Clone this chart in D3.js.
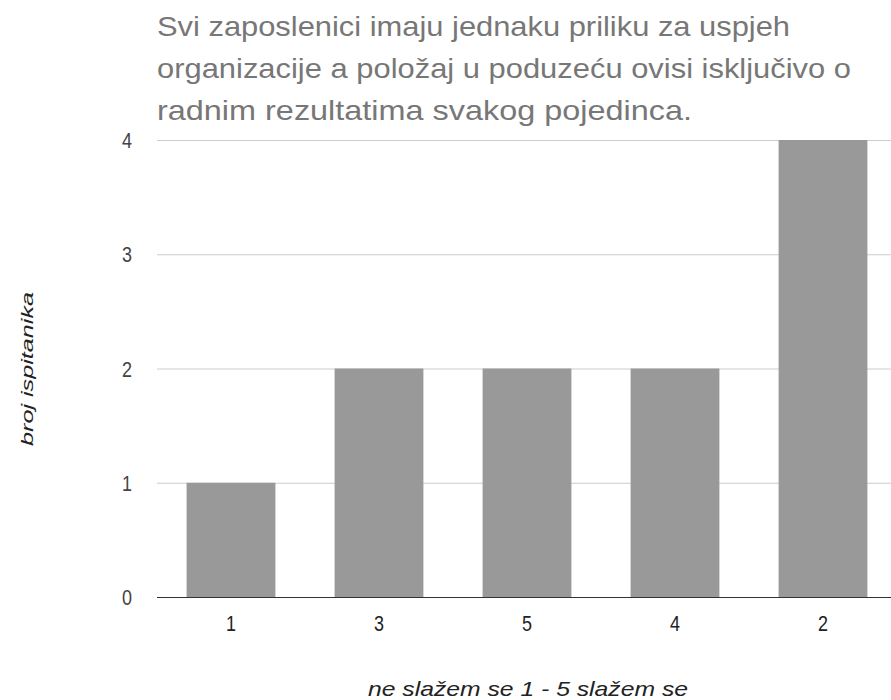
<!DOCTYPE html>
<html>
<head>
<meta charset="utf-8">
<script src="https://cdn.jsdelivr.net/npm/d3@7"></script>
<style>
body{margin:0;background:#fff;}
text{font-family:"Liberation Sans",Arial,sans-serif;}
</style>
</head>
<body>
<div id="chart"></div>
<script>
var categories = ["1", "3", "5", "4", "2"];
var values = [1, 2, 2, 2, 4];
var yTicks = [0, 1, 2, 3, 4];
var titleLines = [
    "Svi zaposlenici imaju jednaku priliku za uspjeh",
    "organizacije a položaj u poduzeću ovisi isključivo o",
    "radnim rezultatima svakog pojedinca."
];
var titleWidths = [633, 694, 535];

var width = 891, height = 700;
var plot = {left: 157, right: 897, top: 140, bottom: 597};

var svg = d3.select('#chart')
    .append('svg')
    .attr('width', width)
    .attr('height', height);

var x = d3.scaleBand()
    .domain(categories)
    .range([plot.left, plot.right])
    .paddingInner(0.4)
    .paddingOuter(0.2);

var y = d3.scaleLinear()
    .domain([0, 4])
    .range([plot.bottom, plot.top]);

// gridlines
svg.selectAll('.grid')
    .data(yTicks.filter(d => d > 0))
    .enter().append('line')
    .attr('class', 'grid')
    .attr('x1', plot.left)
    .attr('x2', width)
    .attr('y1', d => y(d) + 0.5)
    .attr('y2', d => y(d) + 0.5)
    .attr('stroke', '#cccccc')
    .attr('stroke-width', 1);

// bars
svg.selectAll('.bar')
    .data(values)
    .enter().append('rect')
    .attr('class', 'bar')
    .attr('x', (d, i) => x(categories[i]))
    .attr('y', d => y(d))
    .attr('width', x.bandwidth())
    .attr('height', d => y(0) - y(d))
    .attr('fill', '#999999');

// baseline
svg.append('line')
    .attr('x1', plot.left)
    .attr('x2', width)
    .attr('y1', y(0) + 0.5)
    .attr('y2', y(0) + 0.5)
    .attr('stroke', '#333333')
    .attr('stroke-width', 1);

// y tick labels (text in the source is tall and narrow)
svg.selectAll('.ylab')
    .data(yTicks)
    .enter().append('text')
    .attr('class', 'ylab')
    .attr('x', 132)
    .attr('y', d => y(d) + 8)
    .attr('text-anchor', 'end')
    .attr('font-size', 22)
    .attr('fill', '#444444')
    .attr('textLength', 10)
    .attr('lengthAdjust', 'spacingAndGlyphs')
    .text(d => d);

// x tick labels
svg.selectAll('.xlab')
    .data(categories)
    .enter().append('text')
    .attr('class', 'xlab')
    .attr('x', d => x(d) + x.bandwidth() / 2)
    .attr('y', 631)
    .attr('text-anchor', 'middle')
    .attr('font-size', 22)
    .attr('fill', '#222222')
    .attr('textLength', 10)
    .attr('lengthAdjust', 'spacingAndGlyphs')
    .text(d => d);

// title
svg.selectAll('.title')
    .data(titleLines)
    .enter().append('text')
    .attr('class', 'title')
    .attr('x', 157)
    .attr('y', (d, i) => 36 + i * 42)
    .attr('font-size', 28)
    .attr('fill', '#777777')
    .attr('textLength', (d, i) => titleWidths[i])
    .attr('lengthAdjust', 'spacingAndGlyphs')
    .text(d => d);

// axis titles
svg.append('text')
    .attr('transform', 'translate(33,369) rotate(-90)')
    .attr('text-anchor', 'middle')
    .attr('font-size', 17)
    .attr('font-style', 'italic')
    .attr('fill', '#222222')
    .attr('textLength', 154)
    .attr('lengthAdjust', 'spacingAndGlyphs')
    .text('broj ispitanika');

svg.append('text')
    .attr('x', 528)
    .attr('y', 696)
    .attr('text-anchor', 'middle')
    .attr('font-size', 21)
    .attr('font-style', 'italic')
    .attr('fill', '#222222')
    .attr('textLength', 320)
    .attr('lengthAdjust', 'spacingAndGlyphs')
    .text('ne slažem se 1 - 5 slažem se');
</script>
</body>
</html>
